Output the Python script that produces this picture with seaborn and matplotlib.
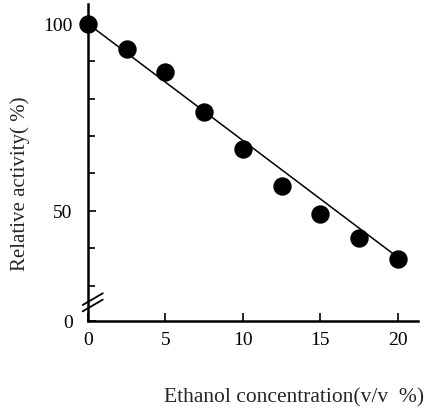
import numpy as np
import pandas as pd
import matplotlib
matplotlib.use("Agg")
import matplotlib.pyplot as plt
import seaborn as sns

# measured points
ethanol = [0, 2.5, 5, 7.5, 10, 12.5, 15, 17.5, 20]
activity = [100, 93.3, 87.2, 76.4, 66.6, 56.7, 49.2, 42.8, 37.2]

# fitted line ends
fit_x = [0, 20]
fit_y = [100, 37.6]

x_ticks = [5, 10, 15, 20]
y_ticks = [50, 100]
y_minor = [30, 40, 60, 70, 80, 90]

# the y axis is broken: value 0 is drawn at the bottom of the axis
y_bottom = 20.6
y_top = 105.3

df = pd.DataFrame({"ethanol": ethanol, "activity": activity})
fit = pd.DataFrame({"x": fit_x, "y": fit_y})

sns.set_theme(style="white")
plt.rcParams["font.family"] = ["Liberation Serif", "DejaVu Serif"]

fig = plt.figure(figsize=(4.29, 4.10), dpi=100)
ax = fig.add_axes([0.205, 0.215, 0.769, 0.773])

sns.lineplot(data=fit, x="x", y="y", ax=ax, color="black", linewidth=1.1)
sns.scatterplot(data=df, x="ethanol", y="activity", ax=ax, color="black",
                s=150, edgecolor="black", zorder=3, clip_on=False)

ax.set_xlim(0, 21.3)
ax.set_ylim(y_bottom, y_top)

ax.set_xticks([0] + x_ticks)
ax.set_xticklabels(["0"] + [str(t) for t in x_ticks])
ax.set_yticks([y_bottom] + y_ticks)
ax.set_yticklabels(["0"] + [str(t) for t in y_ticks])
ax.set_yticks(y_minor, minor=True)

ax.tick_params(axis="both", which="both", direction="in", colors="black",
               labelsize=14, left=True, bottom=True)
ax.tick_params(axis="y", which="major", length=6, width=1.2, pad=11)
ax.tick_params(axis="y", which="minor", length=5, width=1.2)
ax.tick_params(axis="x", which="major", length=6, width=1.2, pad=7)

for side in ["top", "right"]:
    ax.spines[side].set_visible(False)
for side in ["left", "bottom"]:
    ax.spines[side].set_color("black")
    ax.spines[side].set_linewidth(1.8)

# break marks on the y axis
for dy in (0.055, 0.075):
    ax.plot([-0.016, 0.045], [dy - 0.025, dy + 0.012], transform=ax.transAxes,
            color="black", linewidth=1.3, clip_on=False)

ax.set_xlabel("Ethanol concentration(v/v  %)", fontsize=15.5)
ax.xaxis.set_label_coords(0.625, -0.21)
ax.set_ylabel("Relative activity( %)", fontsize=15)
ax.yaxis.set_label_coords(-0.176, 0.435)

fig.savefig("out.png", dpi=100)
